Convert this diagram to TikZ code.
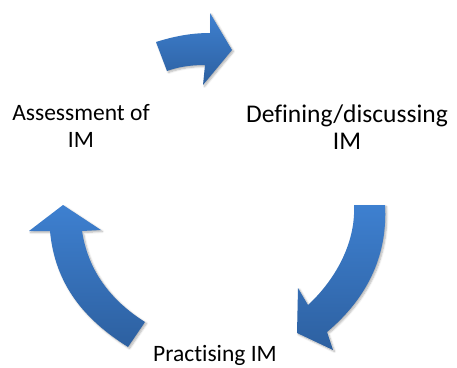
\documentclass[tikz,border=0pt]{standalone}
\usepackage{fontspec}
\setmainfont{Carlito}[Ligatures=NoCommon]
\usetikzlibrary{shadows.blur}
\definecolor{armlight}{RGB}{62,128,208}
\definecolor{armdark}{RGB}{45,96,160}
\tikzset{
    bluearrow/.style ={
        top color=armlight,
        bottom color=armdark,
        draw=none,
        blur shadow={shadow xshift=1.5pt, shadow yshift=-1.5pt, shadow opacity=30, shadow blur steps=6}
    },
    phase/.style ={
        align=center,
        inner sep=0pt,
        text=black,
        font=\fontsize{23.5}{27}\selectfont
    },
    bigphase/.style ={
        phase,
        font=\fontsize{25.5}{27}\selectfont
    }
}

\begin{document}
\begin{tikzpicture}[x=1pt,y=-1pt]
        \useasboundingbox (0,0) rectangle (457,367);
        \node[bigphase] (define) at(347,127) {Defining/discussing\\IM};
        \node[phase, anchor=base] (practise) at(215,361) {Practising IM};
        \node[phase] (assess) at(81,126) {Assessment of\\IM};
        % assess -> define
        \path[bluearrow] (156,42) .. controls (175,36) and (192,33) .. (210,33)
            -- (210,13) -- (232,50) -- (203,85) -- (205,65)
            .. controls (190,65) and (178,67) .. (167,71) -- cycle;
        % define -> practise
        \path[bluearrow] (354,205) -- (385,205) .. controls (388,258) and (365,300) .. (327,332)
            -- (333,350) -- (297,333) -- (298,288) -- (308,305)
            .. controls (333,282) and (356,245) .. (354,205) -- cycle;
        % practise -> assess
        \path[bluearrow] (63,205) -- (101,230) -- (82,231)
            .. controls (88,270) and (110,300) .. (145,322) -- (128,347)
            .. controls (85,320) and (55,285) .. (50,231) -- (29,231) -- cycle;
    \end{tikzpicture}
\end{document}
